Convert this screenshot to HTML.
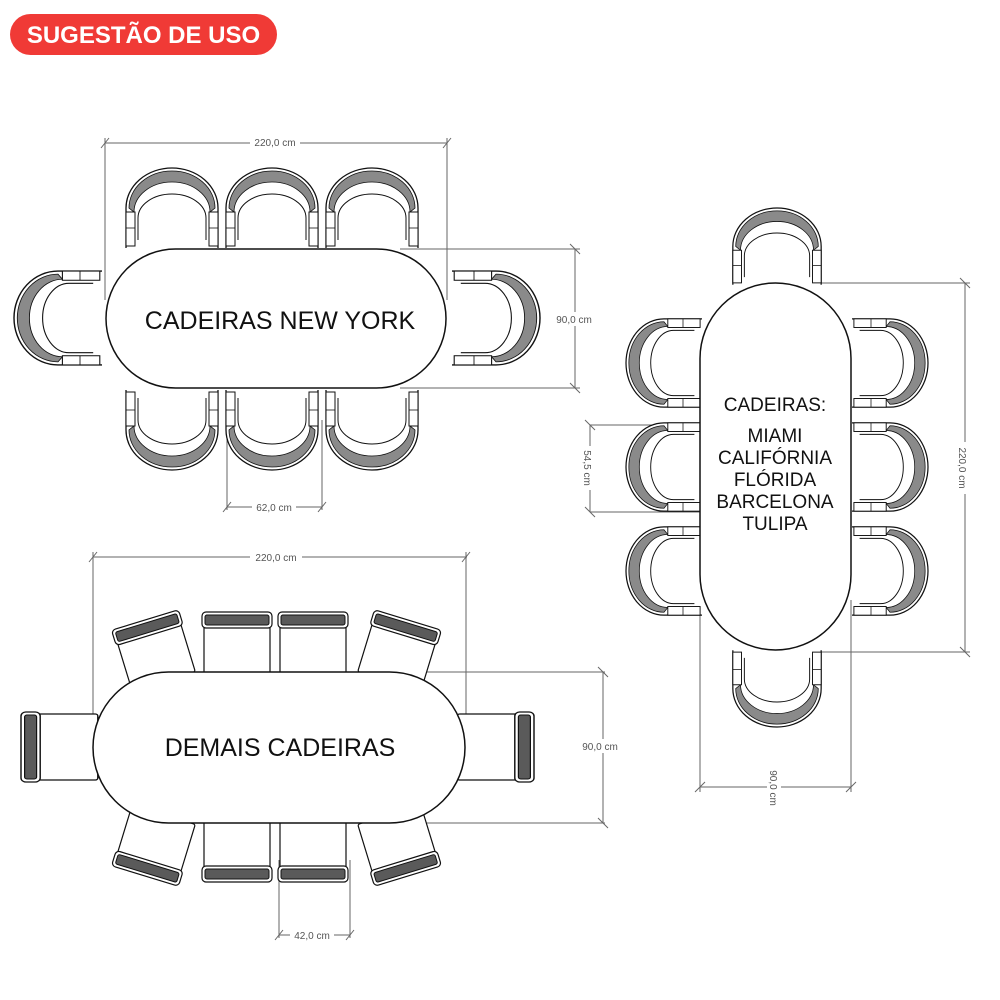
<!DOCTYPE html>
<html><head><meta charset="utf-8"><style>
html,body{margin:0;padding:0;background:#fff;}
svg{display:block;}
text{font-family:"Liberation Sans",sans-serif;}
</style></head><body>
<svg width="1000" height="1000" viewBox="0 0 1000 1000" xmlns="http://www.w3.org/2000/svg">
<defs>
  <g id="ny">
    <path d="M-46,80 V40 A46,40 0 0 1 46,40 V80" fill="#fff" stroke="#111" stroke-width="1.3"/>
    <path d="M-43,40 A43,37 0 0 1 43,40 L38,44 A38,30 0 0 0 -38,44 Z" fill="#8a8a8a" stroke="#111" stroke-width="0.8"/>
    <path d="M-34,72 V50 A34,24 0 0 1 34,50 V72" fill="none" stroke="#111" stroke-width="1"/>
    <rect x="-46" y="44" width="9" height="34" fill="#fff" stroke="#111" stroke-width="1"/>
    <rect x="37" y="44" width="9" height="34" fill="#fff" stroke="#111" stroke-width="1"/>
    <line x1="-46" y1="60" x2="-37" y2="60" stroke="#111" stroke-width="0.8"/>
    <line x1="37" y1="60" x2="46" y2="60" stroke="#111" stroke-width="0.8"/>
  </g>
  <g id="dm">
    <rect x="-33" y="12" width="66" height="52" rx="2" fill="#fff" stroke="#111" stroke-width="1.2"/>
    <rect x="-35" y="0" width="70" height="16" rx="4" fill="#fff" stroke="#111" stroke-width="1.2"/>
    <rect x="-32" y="3" width="64" height="10" rx="2" fill="#5a5a5a" stroke="#111" stroke-width="1"/>
  </g>
</defs>

<!-- badge -->
<rect x="10" y="14" width="267" height="41" rx="20.5" fill="#f03a36"/>
<text x="143.5" y="43" text-anchor="middle" font-size="24" font-weight="bold" fill="#fff">SUGESTÃO DE USO</text>

<!-- ===== Diagram 1: New York ===== -->
<g stroke="#666" stroke-width="1" fill="none">
  <line x1="105" y1="143" x2="447" y2="143"/>
  <line x1="105" y1="138" x2="105" y2="300"/>
  <line x1="447" y1="138" x2="447" y2="300"/>
  <line x1="101" y1="148" x2="109" y2="138"/><line x1="443" y1="148" x2="451" y2="138"/>
  <line x1="400" y1="249" x2="580" y2="249"/>
  <line x1="400" y1="388" x2="580" y2="388"/>
  <line x1="575" y1="249" x2="575" y2="388"/>
  <line x1="570" y1="244" x2="580" y2="254"/><line x1="570" y1="383" x2="580" y2="393"/>
  <line x1="227" y1="420" x2="227" y2="510"/>
  <line x1="322" y1="420" x2="322" y2="510"/>
  <line x1="227" y1="507" x2="322" y2="507"/>
  <line x1="223" y1="512" x2="231" y2="502"/><line x1="318" y1="512" x2="326" y2="502"/>
</g>
<use href="#ny" transform="translate(172,168)"/>
<use href="#ny" transform="translate(272,168)"/>
<use href="#ny" transform="translate(372,168)"/>
<use href="#ny" transform="translate(172,470) scale(1,-1)"/>
<use href="#ny" transform="translate(272,470) scale(1,-1)"/>
<use href="#ny" transform="translate(372,470) scale(1,-1)"/>
<use href="#ny" transform="translate(14,318) rotate(-90) scale(1.02,1.1)"/>
<use href="#ny" transform="translate(540,318) rotate(90) scale(1.02,1.1)"/>
<rect x="106" y="249" width="340" height="139" rx="69.5" fill="#fff" stroke="#111" stroke-width="1.5"/>
<text x="280" y="329" text-anchor="middle" font-size="25" fill="#111">CADEIRAS NEW YORK</text>
<rect x="250" y="136" width="50" height="13" fill="#fff"/>
<text x="275" y="146" text-anchor="middle" font-size="10" fill="#555">220,0 cm</text>
<rect x="553" y="312" width="44" height="14" fill="#fff"/>
<text x="574" y="323" text-anchor="middle" font-size="10" fill="#555">90,0 cm</text>
<rect x="252" y="500" width="44" height="13" fill="#fff"/>
<text x="274" y="511" text-anchor="middle" font-size="10" fill="#555">62,0 cm</text>

<!-- ===== Diagram 2: vertical ===== -->
<g stroke="#666" stroke-width="1" fill="none">
  <line x1="590" y1="425" x2="700" y2="425"/>
  <line x1="590" y1="512" x2="700" y2="512"/>
  <line x1="590" y1="425" x2="590" y2="512"/>
  <line x1="585" y1="420" x2="595" y2="430"/><line x1="585" y1="507" x2="595" y2="517"/>
  <line x1="800" y1="283" x2="970" y2="283"/>
  <line x1="800" y1="652" x2="970" y2="652"/>
  <line x1="965" y1="283" x2="965" y2="652"/>
  <line x1="960" y1="278" x2="970" y2="288"/><line x1="960" y1="647" x2="970" y2="657"/>
  <line x1="700" y1="600" x2="700" y2="792"/>
  <line x1="851" y1="600" x2="851" y2="792"/>
  <line x1="700" y1="787" x2="851" y2="787"/>
  <line x1="695" y1="792" x2="705" y2="782"/><line x1="846" y1="792" x2="856" y2="782"/>
</g>
<use href="#ny" transform="translate(777,208) scale(0.96,0.96)"/>
<use href="#ny" transform="translate(777,727) scale(0.96,-0.96)"/>
<use href="#ny" transform="translate(626,363) rotate(-90) scale(0.96,0.95)"/>
<use href="#ny" transform="translate(626,467) rotate(-90) scale(0.96,0.95)"/>
<use href="#ny" transform="translate(626,571) rotate(-90) scale(0.96,0.95)"/>
<use href="#ny" transform="translate(928,363) rotate(90) scale(0.96,0.95)"/>
<use href="#ny" transform="translate(928,467) rotate(90) scale(0.96,0.95)"/>
<use href="#ny" transform="translate(928,571) rotate(90) scale(0.96,0.95)"/>
<rect x="700" y="283" width="151" height="367" rx="75.5" fill="#fff" stroke="#111" stroke-width="1.5"/>
<g font-size="19" fill="#111" text-anchor="middle">
  <text x="775" y="411">CADEIRAS:</text>
  <text x="775" y="442">MIAMI</text>
  <text x="775" y="464">CALIFÓRNIA</text>
  <text x="775" y="486">FLÓRIDA</text>
  <text x="775" y="508">BARCELONA</text>
  <text x="775" y="530">TULIPA</text>
</g>
<g transform="translate(587,468) rotate(90)">
  <rect x="-22" y="-8" width="44" height="14" fill="#fff"/>
  <text x="0" y="3" text-anchor="middle" font-size="10" fill="#555">54,5 cm</text>
</g>
<g transform="translate(962,468) rotate(90)">
  <rect x="-26" y="-8" width="52" height="14" fill="#fff"/>
  <text x="0" y="3" text-anchor="middle" font-size="10" fill="#555">220,0 cm</text>
</g>
<g transform="translate(773,788) rotate(90)">
  <rect x="-22" y="-8" width="44" height="14" fill="#fff"/>
  <text x="0" y="3" text-anchor="middle" font-size="10" fill="#555">90,0 cm</text>
</g>

<!-- ===== Diagram 3: Demais ===== -->
<g stroke="#666" stroke-width="1" fill="none">
  <line x1="93" y1="557" x2="467" y2="557"/>
  <line x1="93" y1="552" x2="93" y2="720"/>
  <line x1="466" y1="552" x2="466" y2="720"/>
  <line x1="89" y1="562" x2="97" y2="552"/><line x1="462" y1="562" x2="470" y2="552"/>
  <line x1="400" y1="672" x2="605" y2="672"/>
  <line x1="400" y1="823" x2="605" y2="823"/>
  <line x1="603" y1="672" x2="603" y2="823"/>
  <line x1="598" y1="667" x2="608" y2="677"/><line x1="598" y1="818" x2="608" y2="828"/>
  <line x1="279" y1="860" x2="279" y2="938"/>
  <line x1="350" y1="860" x2="350" y2="938"/>
  <line x1="279" y1="935" x2="350" y2="935"/>
  <line x1="275" y1="940" x2="283" y2="930"/><line x1="346" y1="940" x2="354" y2="930"/>
</g>
<use href="#dm" transform="translate(237,612)"/>
<use href="#dm" transform="translate(313,612)"/>
<use href="#dm" transform="translate(145,620) rotate(-17)"/>
<use href="#dm" transform="translate(408,620) rotate(17)"/>
<use href="#dm" transform="translate(237,882) scale(1,-1)"/>
<use href="#dm" transform="translate(313,882) scale(1,-1)"/>
<use href="#dm" transform="translate(145,876) scale(1,-1) rotate(-17)"/>
<use href="#dm" transform="translate(408,876) scale(1,-1) rotate(17)"/>
<use href="#dm" transform="translate(21,747) rotate(-90) scale(1,1.2)"/>
<use href="#dm" transform="translate(534,747) rotate(90) scale(1,1.2)"/>
<rect x="93" y="672" width="372" height="151" rx="75.5" fill="#fff" stroke="#111" stroke-width="1.5"/>
<text x="280" y="756" text-anchor="middle" font-size="25" fill="#111">DEMAIS CADEIRAS</text>
<rect x="250" y="550" width="52" height="14" fill="#fff"/>
<text x="276" y="561" text-anchor="middle" font-size="10" fill="#555">220,0 cm</text>
<rect x="577" y="739" width="46" height="14" fill="#fff"/>
<text x="600" y="750" text-anchor="middle" font-size="10" fill="#555">90,0 cm</text>
<rect x="290" y="928" width="44" height="14" fill="#fff"/>
<text x="312" y="939" text-anchor="middle" font-size="10" fill="#555">42,0 cm</text>
</svg>
</body></html>
